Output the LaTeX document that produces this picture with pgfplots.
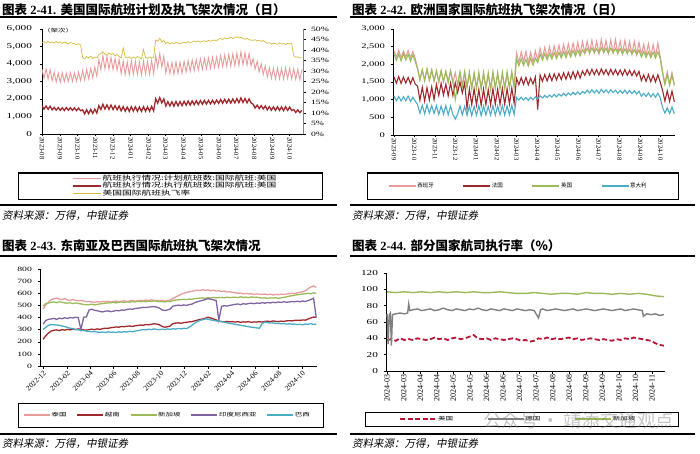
\documentclass[border=0pt]{standalone}
\usepackage{fontspec}
\setmainfont{Liberation Serif}
\newfontfamily\cjk{Noto Sans CJK SC}
\newfontfamily\cjkit{Noto Sans CJK SC}[FakeSlant=0.2]
\usepackage{graphicx}
\usepackage{pgfplots}
\usepackage{pgfplotstable}
\pgfplotsset{compat=1.18}
\newcommand{\sx}[1]{\scalebox{1.5}[1]{#1}}
\definecolor{pk}{RGB}{232,155,155}
\definecolor{dr}{RGB}{160,40,45}
\definecolor{yl}{RGB}{215,185,60}
\definecolor{gn}{RGB}{155,187,89}
\definecolor{bl}{RGB}{75,172,198}
\definecolor{pu}{RGB}{128,100,162}
\definecolor{cr}{RGB}{185,20,55}
\definecolor{gy}{RGB}{128,128,128}

% Panel 1: US international flights, half-week steps from 2023-08-01
\pgfplotstableread{
plan exec rate
3700 1610 43.6
3180 1420 43.9
3720 1600 43.2
3150 1410 44.1
3680 1590 43.5
3050 1380 43.8
3520 1520 43.3
2980 1360 44.0
3480 1510 43.4
2960 1350 43.9
3500 1500 43.1
2990 1340 43.7
3470 1510 43.5
3000 1360 42.8
3510 1500 43.6
3010 1350 43.2
3490 1490 42.9
3020 1340 42.6
3530 1480 43.0
3050 1330 42.4
3620 1380 36.5
3080 1150 35.8
3680 1390 36.9
3150 1160 36.2
3750 1410 37.1
3230 1180 35.9
3820 1420 36.6
3300 1200 36.4
4250 1620 37.8
3680 1400 38.3
4500 1700 39.2
3720 1420 38.0
4420 1660 37.4
3700 1410 38.6
4380 1650 37.9
3680 1400 38.4
4300 1620 37.2
3650 1390 37.8
4250 1600 36.9
3450 1320 36.3
4150 1560 41.0
3400 1300 36.5
4120 1540 36.2
3380 1290 36.8
4180 1560 35.9
3420 1310 36.6
4150 1550 36.1
3400 1300 36.9
4100 1540 36.3
3380 1290 35.8
4160 1560 40.2
3420 1300 36.4
4140 1550 36.0
3400 1300 36.7
4200 1580 36.2
3450 1320 36.5
4480 2020 44.8
3800 1760 44.2
4600 2080 45.6
3820 1780 43.9
4450 2000 44.5
3480 1600 43.1
4100 1850 43.6
3450 1600 42.8
4080 1840 43.5
3420 1590 43.0
4120 1860 43.8
3460 1610 43.2
4100 1850 42.9
3470 1620 43.4
4150 1870 43.7
3550 1650 43.3
4180 1880 44.0
3580 1660 43.6
4220 1890 43.8
3620 1670 44.2
4250 1900 43.9
3650 1680 44.3
4300 1910 43.7
3700 1700 44.1
4320 1920 44.4
3720 1710 44.0
4350 1920 44.6
3760 1720 44.2
4380 1930 44.5
3790 1730 44.8
4400 1940 44.3
3820 1750 45.2
4480 1970 45.5
3850 1760 45.0
4520 1980 45.8
3870 1770 45.3
4550 1990 45.6
3890 1770 46.2
4580 2000 45.4
3900 1780 45.9
4620 2020 46.3
3920 1790 45.7
4700 2060 46.0
3950 1800 45.5
4640 2030 45.1
3930 1780 45.6
4600 2000 45.0
3900 1770 44.7
4300 1700 44.6
3700 1480 44.9
4150 1650 44.3
3550 1450 44.7
4000 1620 44.1
3400 1430 44.5
3900 1600 43.8
3250 1380 43.2
3780 1560 43.5
3180 1360 42.9
3750 1550 43.3
3150 1350 43.0
3760 1560 42.7
3160 1350 43.4
3740 1550 42.8
3140 1340 43.1
3780 1560 42.6
3170 1350 43.3
3760 1540 42.9
3150 1340 43.0
3720 1400 37.2
3120 1230 36.5
3700 1380 36.8
3100 1220 36.2
3680 1350 36.4
}\tA

% Panel 2: Europe, half-week steps from 2023-09-01
\pgfplotstableread{
es fr uk it
2380 1640 2300 1100
2200 1470 2110 970
2400 1650 2290 1090
2190 1460 2100 960
2370 1640 2310 1080
2210 1470 2120 970
2390 1630 2280 1100
2180 1450 2090 950
2360 1620 2270 1070
2170 1440 2080 960
1880 1380 1880 860
1560 980 1560 620
1840 1350 1850 840
1540 960 1540 600
1860 1340 1870 850
1550 990 1560 620
1830 1360 1840 830
1530 1000 1530 610
1800 1430 1820 830
1500 1120 1520 580
1820 1460 1810 820
1510 1130 1510 590
1790 1440 1800 830
1480 1110 1500 570
1810 1470 1820 820
1490 1120 1490 580
1760 1480 1000 450
1420 1200 1420 590
1750 1500 1790 820
1400 1190 1380 570
1740 1480 1800 810
1380 750 1350 560
1700 1300 1780 820
1350 860 1300 550
1720 1310 1760 810
1360 850 1320 560
1690 1290 1780 830
1340 840 1290 550
1710 1300 1770 820
1350 860 1310 570
1700 1280 1760 810
1330 850 1280 560
1720 1310 1790 830
1360 870 1320 560
1690 1300 1770 820
1350 860 1300 570
1710 1320 1780 830
1340 870 1310 560
1720 1310 1790 820
1360 880 1330 570
1730 1330 1800 840
1380 900 1350 580
2320 1600 2150 1060
2050 1420 1960 990
2350 1620 2160 1070
2060 1430 1970 990
2360 1630 2140 1060
2040 1420 1950 980
2340 1610 2170 1070
2070 1440 1980 1000
2380 1640 2180 1080
2120 720 2050 1020
2450 1700 2290 1110
2180 1520 2120 1050
2480 1710 2300 1120
2200 1530 2130 1060
2500 1720 2310 1130
2210 1540 2150 1070
2520 1730 2330 1150
2230 1560 2160 1080
2540 1740 2340 1160
2240 1570 2180 1100
2560 1760 2360 1180
2260 1580 2190 1110
2580 1770 2370 1190
2270 1590 2210 1130
2600 1790 2390 1210
2290 1600 2230 1140
2620 1800 2400 1220
2300 1610 2240 1150
2640 1810 2410 1230
2320 1690 2310 1180
2660 1850 2450 1270
2320 1700 2320 1190
2680 1860 2460 1280
2330 1710 2330 1190
2650 1850 2440 1270
2310 1700 2310 1180
2700 1870 2470 1290
2340 1720 2340 1200
2670 1850 2450 1280
2320 1700 2320 1190
2690 1860 2460 1280
2330 1710 2330 1200
2700 1850 2450 1270
2320 1700 2310 1180
2660 1840 2440 1260
2310 1690 2300 1180
2680 1850 2430 1270
2300 1690 2310 1170
2640 1830 2420 1260
2290 1680 2290 1170
2650 1820 2410 1250
2280 1670 2280 1160
2620 1800 2400 1240
2260 1540 2210 1100
2560 1700 2360 1180
2250 1520 2200 1090
2580 1710 2350 1190
2240 1510 2190 1080
2550 1690 2340 1170
2230 1500 2180 1070
2600 1700 2350 1180
2220 1500 2170 1060
1800 1260 1750 780
1460 960 1430 620
1780 1250 1720 770
1440 950 1410 610
1760 1240 1700 790
1430 940 1400 600
}\tB

% Panel 3: SE Asia and Brazil, weekly from 2022-12-01
\pgfplotstableread{
th vn sg id br
470 220 495 345 300
505 250 515 375 320
525 272 520 385 335
548 288 525 388 342
555 295 528 392 340
560 298 522 385 338
552 292 530 395 336
548 300 526 390 330
556 296 520 398 325
545 302 518 392 318
540 298 522 400 312
548 305 515 396 308
542 300 520 402 302
538 306 516 398 298
540 302 512 300 295
536 298 508 402 292
530 296 505 405 288
532 300 506 462 285
528 304 510 468 282
526 300 504 460 284
530 306 508 456 280
528 302 512 450 278
532 308 515 446 280
530 312 518 452 276
534 310 520 455 282
528 316 522 448 278
532 318 525 452 280
536 322 520 458 276
530 320 526 455 282
534 326 528 462 278
538 324 524 460 284
532 328 530 466 280
536 330 526 470 286
540 326 532 468 282
534 332 528 474 288
538 334 534 476 292
542 338 530 480 296
538 336 534 484 300
544 342 530 482 298
540 340 536 486 304
546 344 532 488 300
542 348 538 490 306
540 346 534 486 302
538 340 530 478 300
542 326 532 462 304
536 320 528 458 300
540 324 534 462 306
544 330 530 470 302
556 350 540 494 308
568 354 544 498 304
580 356 546 502 310
592 352 548 498 306
600 358 550 504 312
606 360 548 500 308
612 364 552 506 320
616 366 550 510 334
620 372 556 522 352
626 378 558 530 366
622 384 560 536 376
630 388 562 542 382
624 394 558 548 388
628 402 564 556 386
620 396 560 550 380
626 388 566 546 376
618 380 562 540 372
622 370 564 380 370
614 366 566 492 366
618 364 562 498 362
610 368 568 494 356
612 364 564 500 352
608 366 566 504 348
604 362 568 508 344
600 366 564 512 340
602 360 570 506 336
596 364 566 514 332
598 362 568 510 328
594 366 564 516 324
596 360 570 518 320
590 364 566 514 318
594 362 568 520 314
592 366 564 516 312
590 362 560 522 350
594 368 562 518 362
588 370 558 524 358
592 366 562 520 354
586 372 560 526 356
590 368 564 522 350
588 366 558 528 352
592 370 562 524 348
590 368 566 530 350
594 372 570 526 346
596 374 576 528 348
600 372 580 532 344
598 376 584 530 346
604 378 588 534 342
608 376 590 530 344
612 380 594 536 340
620 378 596 532 346
638 388 600 540 344
652 396 596 548 350
660 404 604 560 342
648 400 598 400 346
}\tC

\pgfplotsset{
  base/.style={scale only axis, anchor=south west, axis lines=left,
    axis line style={-, black, line width=0.6pt},
    tick style={black, line width=0.5pt}, major tick length=2.5pt, tick align=outside,
    enlargelimits=false, scaled y ticks=false, scaled x ticks=false,
    /pgf/number format/assume math mode=true,
    legend cell align=left,
    legend style={draw=none, fill=none, inner sep=0pt, nodes={inner sep=1pt}},
    yticklabel={\sx{\pgfmathprintnumber{\tick}}}},
}

\begin{document}
\begin{tikzpicture}
\useasboundingbox (0pt,0pt) rectangle (700pt,453pt);

% ---------- titles, rules, sources ----------
\node[anchor=west, inner sep=0pt] at (2pt,443pt) {\fontsize{12.5}{14}\selectfont\bfseries{\cjk 图表} 2-41. {\cjk 美国国际航班计划及执飞架次情况（日）}};
\node[anchor=west, inner sep=0pt] at (352pt,443pt) {\fontsize{12.5}{14}\selectfont\bfseries{\cjk 图表} 2-42. {\cjk 欧洲国家国际航班执飞架次情况（日）}};
\node[anchor=west, inner sep=0pt] at (2pt,207pt) {\fontsize{12.5}{14}\selectfont\bfseries{\cjk 图表} 2-43. {\cjk 东南亚及巴西国际航班执飞架次情况}};
\node[anchor=west, inner sep=0pt] at (352pt,207pt) {\fontsize{12.5}{14}\selectfont\bfseries{\cjk 图表} 2-44. {\cjk 部分国家航司执行率（\%）}};
\draw[line width=1.3pt] (0pt,436pt) -- (337pt,436pt);
\draw[line width=1.3pt] (350pt,436pt) -- (695pt,436pt);
\draw[line width=1.3pt] (0pt,197pt) -- (337pt,197pt);
\draw[line width=1.3pt] (350pt,197pt) -- (695pt,197pt);
\draw[line width=1.1pt] (0pt,248pt) -- (337pt,248pt);
\draw[line width=1.1pt] (350pt,248pt) -- (695pt,248pt);
\draw[line width=1.1pt] (0pt,19pt) -- (337pt,19pt);
\draw[line width=1.1pt] (350pt,19pt) -- (695pt,19pt);
\node[anchor=west, inner sep=0pt] at (2pt,237.5pt) {\cjkit\fontsize{10.5}{12}\selectfont 资料来源：万得，中银证券};
\node[anchor=west, inner sep=0pt] at (352pt,237.5pt) {\cjkit\fontsize{10.5}{12}\selectfont 资料来源：万得，中银证券};
\node[anchor=west, inner sep=0pt] at (2pt,9pt) {\cjkit\fontsize{10.5}{12}\selectfont 资料来源：万得，中银证券};
\node[anchor=west, inner sep=0pt] at (352pt,9pt) {\cjkit\fontsize{10.5}{12}\selectfont 资料来源：万得，中银证券};
% legend frames
\draw[line width=1pt] (18pt,280pt) rectangle (322pt,254pt);
\draw[line width=1pt] (367pt,280pt) rectangle (678pt,254pt);
\draw[line width=1pt] (18pt,50pt) rectangle (323pt,26pt);
\draw[line width=1pt] (365pt,41pt) rectangle (678pt,27pt);
\node[anchor=west, inner sep=0pt] at (43pt,422pt) {\cjk\fontsize{5}{6}\selectfont\sx{（架次）}};

% ---------- Panel 1 ----------
\begin{axis}[base, at={(42pt,319pt)}, width=261pt, height=105pt,
  xmin=0, xmax=450, ymin=0, ymax=6000,
  ytick={0,1000,...,6000},
  yticklabel style={font=\fontsize{7.5}{8}\selectfont, xshift=-4pt},
  xtick={0,31,61,92,122,153,184,213,244,274,305,335,366,397,427},
  xticklabels={2023-08,2023-09,2023-10,2023-11,2023-12,2024-01,2024-02,2024-03,2024-04,2024-05,2024-06,2024-07,2024-08,2024-09,2024-10},
  xticklabel style={rotate=-90, anchor=west, font=\fontsize{6.5}{7}\selectfont, inner sep=1pt},
  legend style={at={(0.115,-0.495)}, anchor=west, font=\cjk\fontsize{6.5}{7}\selectfont, row sep=-2pt},
  legend image code/.code={\draw[#1] (0pt,0pt) -- (28pt,0pt);}]
\addplot[pk, line width=0.9pt] table[x expr=\coordindex*3.5, y=plan]{\tA};
\addlegendentry{\sx{航班执行情况:计划航班数:国际航班:美国}}
\addplot[dr, line width=1.3pt] table[x expr=\coordindex*3.5, y=exec]{\tA};
\addlegendentry{\sx{航班执行情况:执行航班数:国际航班:美国}}
\addlegendimage{yl, line width=0.6pt}
\addlegendentry{\sx{美国国际航班执飞率}}
\end{axis}
\begin{axis}[base, at={(42pt,319pt)}, width=261pt, height=105pt,
  xmin=0, xmax=450, ymin=0, ymax=50,
  axis x line=none, axis y line*=right, axis line style={-, gy, line width=0.6pt},
  ytick={0,5,...,50},
  yticklabel={\sx{\pgfmathprintnumber{\tick}\%}},
  yticklabel style={font=\fontsize{6.5}{7}\selectfont, xshift=2pt}]
\addplot[yl, line width=0.7pt] table[x expr=\coordindex*3.5, y=rate]{\tA};
\end{axis}

% ---------- Panel 2 ----------
\begin{axis}[base, at={(393pt,318pt)}, width=282pt, height=106pt,
  xmin=-1.5, xmax=417.5, ymin=0, ymax=3000,
  ytick={0,500,...,3000},
  yticklabel style={font=\fontsize{7}{8}\selectfont, xshift=-2pt},
  xtick={0,30,61,91,122,153,182,213,243,274,304,335,366,396},
  xticklabels={2023-09,2023-10,2023-11,2023-12,2024-01,2024-02,2024-03,2024-04,2024-05,2024-06,2024-07,2024-08,2024-09,2024-10},
  xticklabel style={rotate=-90, anchor=west, font=\fontsize{6.5}{7}\selectfont, inner sep=1pt},
  legend columns=4,
  legend style={at={(-0.0177,-0.481)}, anchor=west, font=\cjk\fontsize{5.5}{6}\selectfont,
    /tikz/every even column/.append style={column sep=28pt}},
  legend image code/.code={\draw[#1] (0pt,0pt) -- (27pt,0pt);}]
\addplot[pk, line width=1.1pt] table[x expr=\coordindex*3.5, y=es]{\tB};
\addlegendentry{西班牙}
\addplot[dr, line width=1.1pt] table[x expr=\coordindex*3.5, y=fr]{\tB};
\addlegendentry{法国}
\addplot[gn, line width=1.1pt] table[x expr=\coordindex*3.5, y=uk]{\tB};
\addlegendentry{英国}
\addplot[bl, line width=1.1pt] table[x expr=\coordindex*3.5, y=it]{\tB};
\addlegendentry{意大利}
\end{axis}

% ---------- Panel 3 ----------
\begin{axis}[base, at={(40pt,87pt)}, width=277pt, height=97pt,
  xmin=-8, xmax=709, ymin=0, ymax=800,
  ytick={0,100,...,800},
  yticklabel style={font=\fontsize{6.5}{7}\selectfont, xshift=-2pt},
  xtick={0,62,121,182,243,304,365,427,487,548,609,670},
  xticklabels={2022-12,2023-02,2023-04,2023-06,2023-08,2023-10,2023-12,2024-02,2024-04,2024-06,2024-08,2024-10},
  xticklabel style={rotate=45, anchor=north east, font=\fontsize{7.5}{8}\selectfont, inner sep=1pt},
  legend columns=5,
  legend style={at={(-0.061,-0.505)}, anchor=west, font=\cjk\fontsize{5}{6}\selectfont,
    /tikz/every even column/.append style={column sep=9pt}},
  legend image code/.code={\draw[#1] (0pt,0pt) -- (26pt,0pt);}]
\addplot[pk, line width=1.3pt] table[x expr=\coordindex*7, y=th]{\tC};
\addlegendentry{\sx{泰国}}
\addplot[dr, line width=1.3pt] table[x expr=\coordindex*7, y=vn]{\tC};
\addlegendentry{\sx{越南}}
\addplot[gn, line width=1.3pt] table[x expr=\coordindex*7, y=sg]{\tC};
\addlegendentry{\sx{新加坡}}
\addplot[pu, line width=1.3pt] table[x expr=\coordindex*7, y=id]{\tC};
\addlegendentry{\sx{印度尼西亚}}
\addplot[bl, line width=1.3pt] table[x expr=\coordindex*7, y=br]{\tC};
\addlegendentry{\sx{巴西}}
\end{axis}

% ---------- Panel 4 ----------
\begin{axis}[base, at={(386pt,82pt)}, width=279pt, height=98pt,
  xmin=-1, xmax=257, ymin=0, ymax=120,
  ytick={0,20,...,120},
  yticklabel style={font=\fontsize{7.5}{8}\selectfont, xshift=-2pt},
  xtick={0,15.31,30.63,45.94,61.25,76.56,91.88,107.19,122.5,137.81,153.13,168.44,183.75,199.06,214.38,229.69,245},
  xticklabels={2024-03,2024-03,2024-04,2024-04,2024-05,2024-05,2024-06,2024-06,2024-07,2024-07,2024-08,2024-08,2024-09,2024-09,2024-10,2024-10,2024-11},
  xticklabel style={rotate=90, anchor=east, font=\fontsize{8}{9}\selectfont, inner sep=1pt},
  legend columns=3,
  legend style={at={(0.0466,-0.49)}, anchor=west, font=\cjk\fontsize{5}{6}\selectfont,
    /tikz/every even column/.append style={column sep=33pt}},
  legend image code/.code={\draw[#1] (0pt,0pt) -- (36pt,0pt);}]
\addplot[cr, line width=1.8pt, dash pattern=on 5pt off 2.5pt] coordinates {
(0,38)(4,39)(8,37)(12,40)(16,38)(20,39)(24,38)(28,40)(32,39)(36,38)(40,39)(44,41)(48,39)(52,40)(56,38)(60,40)(64,41)(68,39)(72,40)(76,42)(80,44)(84,40)(88,39)(92,40)(96,38)(100,40)(104,39)(108,38)(112,39)(116,40)(120,39)(124,37)(128,38)(132,36)(136,37)(140,40)(144,39)(148,41)(152,39)(156,40)(160,39)(164,40)(168,41)(172,39)(176,40)(180,38)(184,39)(188,40)(192,39)(196,38)(200,39)(204,38)(208,37)(212,39)(216,38)(220,40)(224,39)(228,41)(232,40)(236,39)(240,38)(244,37)(248,34)(252,32)(256,31)};
\addlegendentry{\sx{美国}}
\addplot[gy, line width=1.4pt] coordinates {
(0,70)(1,33)(2,69)(3,71)(4,31)(5,69)(8,70)(12,71)(16,70)(19,71)(20,82)(21,74)(24,75)(28,76)(32,74)(36,75)(40,76)(44,74)(48,75)(52,77)(56,75)(60,74)(64,76)(68,75)(72,74)(76,76)(80,75)(84,77)(88,75)(92,74)(96,76)(100,75)(104,74)(108,76)(112,75)(116,74)(120,76)(124,75)(128,74)(132,75)(136,74)(140,65)(142,75)(144,76)(148,74)(152,75)(156,76)(160,75)(164,74)(168,75)(172,76)(176,74)(180,75)(184,76)(188,75)(192,74)(196,75)(200,76)(204,75)(208,74)(212,75)(216,76)(220,74)(224,75)(228,76)(232,75)(236,74)(237,67)(240,70)(244,69)(248,70)(252,68)(256,69)};
\addlegendentry{\sx{德国}}
\addplot[gn, line width=1.4pt] coordinates {
(0,97)(8,96)(16,97)(24,96)(32,97)(40,96)(48,97)(56,96)(64,97)(72,96)(80,97)(88,96)(96,96)(104,97)(112,96)(120,95)(128,95)(136,96)(144,95)(152,94)(160,95)(168,95)(176,94)(184,96)(192,95)(200,95)(208,94)(216,95)(224,94)(232,95)(240,94)(248,92)(256,91)};
\addlegendentry{\sx{新加坡}}
\end{axis}

% watermark
\node[anchor=west, inner sep=0pt, text=gray, opacity=0.45] at (483pt,33pt) {\cjk\fontsize{18.5}{19}\selectfont 公众号\,·\,靖添交通观点};
\end{tikzpicture}
\end{document}
